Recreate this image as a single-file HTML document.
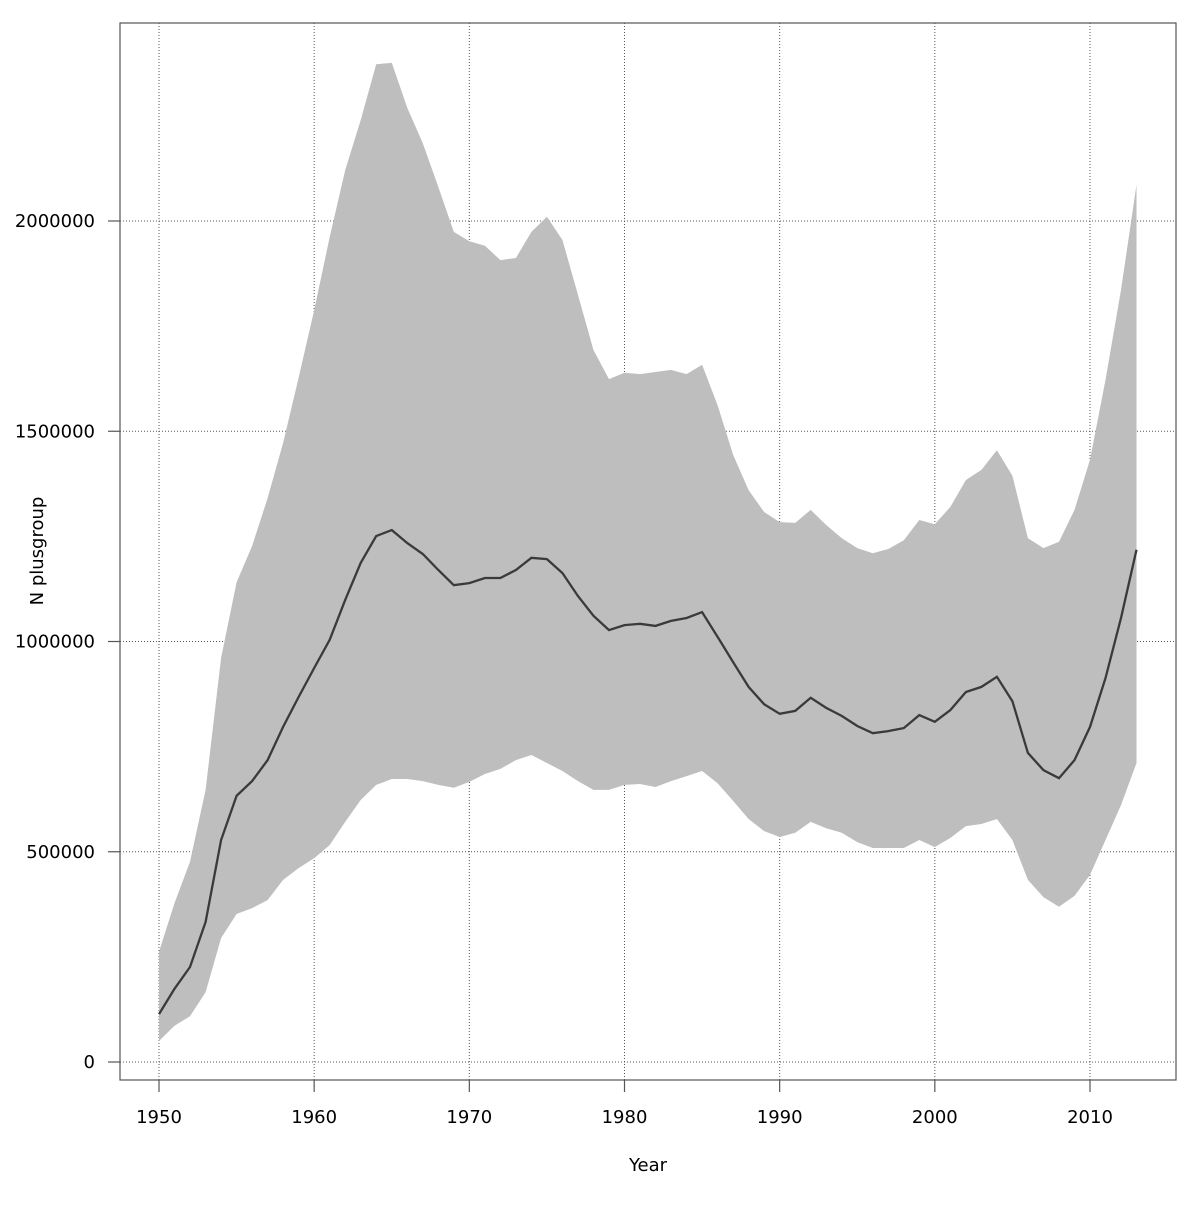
<!DOCTYPE html>
<html><head><meta charset="utf-8"><style>
html,body{margin:0;padding:0;background:#fff}
svg text{font-family:"DejaVu Sans","Liberation Sans",sans-serif;font-size:18px;fill:#000}
</style></head><body>
<svg id="chart" width="1200" height="1200" xmlns="http://www.w3.org/2000/svg">
<g id="grid"></g>
<path id="band" fill="#bebebe" stroke="none"/>
<path id="line" fill="none" stroke="#3a3a3a" stroke-width="2.3"/>
<rect x="120" y="23" width="1056" height="1057" fill="none" stroke="#555" stroke-width="1.2"/>
<g id="axes"></g>
<text x="648" y="1171" text-anchor="middle">Year</text>
<text transform="translate(43,551) rotate(-90)" text-anchor="middle">N plusgroup</text>
</svg>
<script>
const years = [];
for (let y = 1950; y <= 2013; y++) years.push(y);
const meanVals = [114000,174000,226000,333000,528000,633000,668000,718000,797000,868000,937000,1004000,1099000,1187000,1251000,1265000,1234000,1208000,1170000,1134000,1139000,1151000,1151000,1170000,1199000,1196000,1163000,1108000,1061000,1027000,1039000,1042000,1037000,1049000,1056000,1070000,1011000,951000,892000,851000,828000,835000,866000,842000,823000,799000,782000,787000,794000,825000,809000,837000,880000,892000,916000,858000,735000,694000,675000,718000,797000,913000,1056000,1218000];
const upperVals = [262000,378000,476000,647000,961000,1141000,1227000,1341000,1472000,1627000,1788000,1962000,2121000,2240000,2373000,2376000,2269000,2185000,2081000,1974000,1952000,1941000,1907000,1912000,1974000,2010000,1955000,1824000,1693000,1624000,1639000,1636000,1641000,1646000,1636000,1658000,1562000,1444000,1360000,1308000,1284000,1282000,1313000,1277000,1246000,1222000,1210000,1220000,1241000,1289000,1279000,1320000,1384000,1408000,1455000,1394000,1246000,1222000,1237000,1313000,1432000,1622000,1836000,2086000];
const lowerVals = [50000,86000,109000,166000,295000,352000,366000,385000,433000,461000,485000,516000,571000,623000,659000,673000,673000,668000,659000,652000,666000,685000,697000,718000,730000,711000,692000,668000,647000,647000,659000,661000,654000,668000,680000,692000,663000,621000,578000,549000,535000,545000,571000,556000,545000,523000,509000,509000,509000,528000,511000,533000,561000,566000,578000,528000,433000,392000,369000,395000,445000,528000,611000,711000];
const xTicks = [1950,1960,1970,1980,1990,2000,2010];
const yTicks = [0,500000,1000000,1500000,2000000];

const X = v => 159 + (v - 1950) * (1090 - 159) / 60;
const Y = v => 1062 - v * (1062 - 221) / 2000000;
const NS = 'http://www.w3.org/2000/svg';
function mk(tag, attrs, parent) {
  const e = document.createElementNS(NS, tag);
  for (const k in attrs) e.setAttribute(k, attrs[k]);
  parent.appendChild(e);
  return e;
}
const grid = document.getElementById('grid');
const axes = document.getElementById('axes');
xTicks.forEach(t => {
  const g = mk('line', {x1: X(t), x2: X(t), y1: 23, y2: 1080, stroke: '#555', 'stroke-width': 1, 'stroke-dasharray': '1,2'}, grid);
  
  
  const tk = mk('line', {x1: X(t), x2: X(t), y1: 1080, y2: 1092, stroke: '#555', 'stroke-width': 1.2}, axes);
  
  
  const lb = mk('text', {x: X(t), y: 1123, 'text-anchor': 'middle'}, axes);
  lb.textContent = t;
  
  
});
yTicks.forEach(t => {
  const g = mk('line', {x1: 120, x2: 1176, y1: Y(t), y2: Y(t), stroke: '#555', 'stroke-width': 1, 'stroke-dasharray': '1,2'}, grid);
  
  
  const tk = mk('line', {x1: 108, x2: 120, y1: Y(t), y2: Y(t), stroke: '#555', 'stroke-width': 1.2}, axes);
  
  
  const lb = mk('text', {x: 95, y: Y(t) + 6, 'text-anchor': 'end'}, axes);
  lb.textContent = t;
  
  
});
let d = '';
years.forEach((yr, i) => { d += (i ? 'L' : 'M') + X(yr).toFixed(1) + ',' + Y(upperVals[i]).toFixed(1); });
for (let i = years.length - 1; i >= 0; i--) d += 'L' + X(years[i]).toFixed(1) + ',' + Y(lowerVals[i]).toFixed(1);
document.getElementById('band').setAttribute('d', d + 'Z');
let m = '';
years.forEach((yr, i) => { m += (i ? 'L' : 'M') + X(yr).toFixed(1) + ',' + Y(meanVals[i]).toFixed(1); });
document.getElementById('line').setAttribute('d', m);
</script>
</body></html>
